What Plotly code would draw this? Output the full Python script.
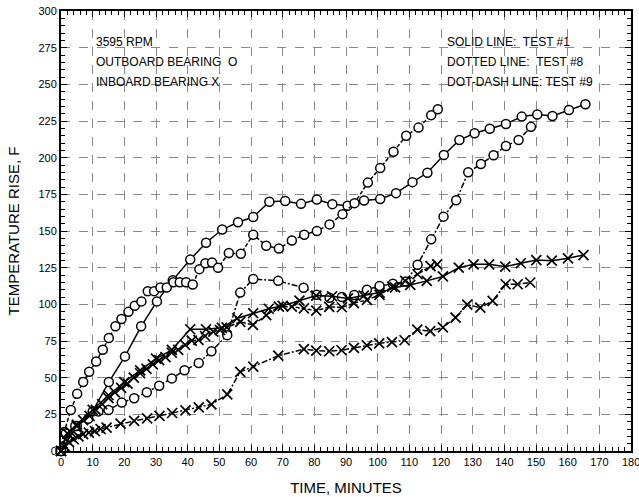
import plotly.graph_objects as go

# Test #1 (solid) outboard bearing - O
t1_out_time = [0, 5, 10, 15.1, 20.2, 25.3, 30.3, 35.3, 40.8, 45.8, 50.9, 55.9, 60.7, 65.8, 70.8, 75.8,
               80.8, 85.7, 90.5, 95.7, 100.8, 105.8, 111, 115.7, 120.9, 125.8, 130.6, 135.4, 140.5,
               145.5, 150.4, 155.2, 160.4, 165.6]
t1_out_temp = [0, 17, 27, 47, 64.5, 85, 102, 116.5, 130.5, 142, 151, 156, 159.5, 170, 170.5, 168.5,
               171.5, 168.3, 167.2, 170.8, 171.8, 175.8, 183.3, 189.7, 201.8, 212, 216.6, 219.7, 223,
               228, 229.4, 228.4, 232.5, 236.4]

# Test #8 (dotted) outboard bearing - O
t8_out_time = [0, 1, 3.1, 5.1, 7, 8.9, 11.1, 13.2, 15.1, 17.2, 19.1, 21.3, 23.3, 25.4, 27.4, 29.4,
               31.4, 33.4, 35.5, 37.5, 39.5, 41.6, 43.7, 45.6, 47.7, 49.6, 53, 56.8, 60.7, 64.8, 68.8,
               72.9, 76.8, 80.8, 84.8, 88.9, 92.7, 96.9, 100.8, 105, 109, 112.9, 116.9, 119]
t8_out_temp = [0, 13, 28, 39, 47, 54, 61, 69, 77, 85, 90, 95, 99, 102, 109, 109, 111.5, 111.5, 115,
               115, 115, 113.5, 124, 128, 128.5, 125, 135, 134.5, 147.5, 140, 138, 143.5, 147.5, 150,
               154.5, 161.5, 169, 183, 193, 204, 215, 220.5, 229, 233]

# Test #9 (dot-dash) outboard bearing - O
t9_out_time = [0, 1.5, 4.5, 8.6, 11.8, 15, 19.2, 23.1, 27.1, 31, 35, 39, 43.5, 47.5, 52.5, 56.6,
               60.7, 68.6, 76.6, 80.7, 84.8, 88.7, 92.6, 96.6, 100.6, 104.8, 108.9, 112.6, 116.9,
               120.8, 124.8, 128.6, 132.6, 136.6, 140.5, 144.5, 148.4]
t9_out_temp = [0, 12, 17, 22, 27, 28, 33, 36, 40, 44.5, 49.5, 55, 60, 68, 79, 108, 117.3, 116, 111.3,
               106.5, 104.5, 105, 106.4, 110, 112.5, 114, 115.5, 127, 144.3, 159.8, 171, 190, 195.7,
               201.6, 208, 212, 221]

# Test #1 (solid) inboard bearing - X
t1_in_time = [0, 2, 5, 10, 15, 20, 25, 30, 35, 40.8, 45.8, 50.8, 55.7, 60.7, 65.6, 70, 75.3, 80.6,
              85.6, 90.6, 95.6, 100.6, 105.5, 110.3, 115.5, 120.6, 125.6, 130.3, 135.2, 140.3, 145.2,
              150.1, 155, 160.1, 165]
t1_in_temp = [0, 12, 18, 28, 38, 47, 55, 63, 69, 83, 83, 84, 90.5, 94, 97, 99, 102.5, 106, 105.5,
              104, 106, 108, 111.5, 113.2, 116, 119, 125, 127.3, 127.3, 125.7, 128, 130.2, 129.8,
              131.4, 133.6]

# Test #8 (dotted) inboard bearing - X
t8_in_time = [0, 1.5, 3, 5, 7, 9, 11, 13, 15, 17, 19, 21, 23, 25, 27, 29, 31, 33, 35, 37, 39.2,
              41.3, 43.4, 45.5, 48.1, 50.2, 52.3, 56.6, 60.6, 64.8, 68.8, 72.9, 76.7, 80.6, 84.7,
              88.7, 92.5, 96.6, 100.6, 104.6, 108.7, 112.6, 116.7, 118.8]
t8_in_temp = [0, 8, 13, 17, 21, 24, 28, 32, 36, 40, 43, 46, 50, 53, 56, 59, 62, 64, 67, 69, 72.3,
              75.2, 75.7, 78.4, 81.4, 82.5, 84.3, 88, 86, 92.7, 98.5, 98.4, 97.3, 95.7, 98.2, 98,
              100.8, 103, 106.4, 112, 116, 120.5, 126, 127.3]

# Test #9 (dot-dash) inboard bearing - X
t9_in_time = [0, 1.3, 2.5, 4, 5.5, 7, 8.8, 10.7, 12.5, 14.4, 18.8, 23.1, 27.2, 31.1, 35.1, 39.3,
              43.5, 47.5, 52.5, 56.6, 60.7, 68.6, 76.7, 80.6, 84.7, 88.6, 92.5, 96.6, 100.5, 104.5,
              108.5, 112.5, 116.6, 120.6, 124.6, 128.3, 132.4, 136.3, 140.4, 144.2, 148.2]
t9_in_temp = [0, 3, 6, 8, 10, 11.5, 12.5, 13.5, 15, 16, 18.7, 20.5, 22.2, 24, 25.9, 27.7, 29.8,
              31.8, 38.6, 54, 57.5, 65, 69.5, 68.5, 68, 68.7, 70.3, 72, 73.4, 74.3, 75.5, 82.7, 81.7,
              84.3, 91, 99.8, 97.8, 102.3, 113.7, 113.7, 114.9]

x_ticks = list(range(0, 181, 10))
y_ticks = list(range(0, 301, 25))

FONT = "Liberation Sans, Arial, sans-serif"
DOTTED = "4px,2px"
DOTDASH = "6px,2px,2px,2px"

series = [
    (t1_out_time, t1_out_temp, "solid", "circle", "Test #1 outboard"),
    (t8_out_time, t8_out_temp, DOTTED, "circle", "Test #8 outboard"),
    (t9_out_time, t9_out_temp, DOTDASH, "circle", "Test #9 outboard"),
    (t1_in_time, t1_in_temp, "solid", "x-thin-open", "Test #1 inboard"),
    (t8_in_time, t8_in_temp, DOTTED, "x-thin-open", "Test #8 inboard"),
    (t9_in_time, t9_in_temp, DOTDASH, "x-thin-open", "Test #9 inboard"),
]

fig = go.Figure()
for xs, ys, dash, symbol, name in series:
    if symbol == "circle":
        marker = dict(symbol="circle", size=9, color="white", line=dict(color="black", width=1.5))
    else:
        marker = dict(symbol="x-thin-open", size=10, color="black", line=dict(color="black", width=1.7))
    fig.add_trace(go.Scatter(
        x=xs, y=ys, name=name, mode="lines+markers",
        line=dict(color="black", width=1.5, dash=dash),
        marker=marker, cliponaxis=False,
    ))

# text notes inside the plot
left_notes = ["3595 RPM", "OUTBOARD BEARING  O", "INBOARD BEARING X"]
right_notes = ["SOLID LINE:  TEST #1", "DOTTED LINE:  TEST #8", "DOT-DASH LINE: TEST #9"]
for i, txt in enumerate(left_notes):
    fig.add_annotation(x=10.3, y=279 - i * 13.8, text=txt, showarrow=False, xanchor="left",
                       font=dict(size=12, color="black", family=FONT))
for i, txt in enumerate(right_notes):
    fig.add_annotation(x=121.2, y=279 - i * 13.8, text=txt, showarrow=False, xanchor="left",
                       font=dict(size=12, color="black", family=FONT))

# last x label sits on the page edge; plotly drops it, so draw it as a note
fig.add_annotation(x=x_ticks[-1], y=0, yref="paper", yanchor="top", yshift=-3,
                   text=str(x_ticks[-1]), showarrow=False,
                   font=dict(size=11, color="black", family=FONT))

axis_common = dict(
    showline=True, linecolor="black", linewidth=2, mirror="ticks",
    ticks="inside", tickcolor="black", ticklen=6, tickwidth=1,
    showgrid=True, gridcolor="#8a8a8a", griddash="dash", gridwidth=1,
    zeroline=False, automargin=False,
    tickfont=dict(size=11, color="black", family=FONT),
)

fig.update_xaxes(
    range=[0, 180], tickvals=x_ticks,
    minor=dict(dtick=2, ticks="inside", ticklen=4, tickcolor="black", showgrid=False),
    title=dict(text="TIME, MINUTES", font=dict(size=15, color="black", family=FONT)),
    **axis_common,
)
fig.update_yaxes(
    range=[0, 300], tickvals=y_ticks,
    minor=dict(dtick=5, ticks="inside", ticklen=4, tickcolor="black", showgrid=False),
    title=dict(text="TEMPERATURE RISE, F", font=dict(size=15, color="black", family=FONT)),
    **axis_common,
)

fig.update_layout(
    width=639, height=497,
    margin=dict(l=61, r=8, t=11, b=46),
    plot_bgcolor="white", paper_bgcolor="white",
    showlegend=False,
    font=dict(family=FONT, color="black"),
)

# drop the browser's default body margin so the figure sits at the page corner
fig.write_html("out.html", config={"displayModeBar": False},
               post_script="document.body.style.margin = '0';")
